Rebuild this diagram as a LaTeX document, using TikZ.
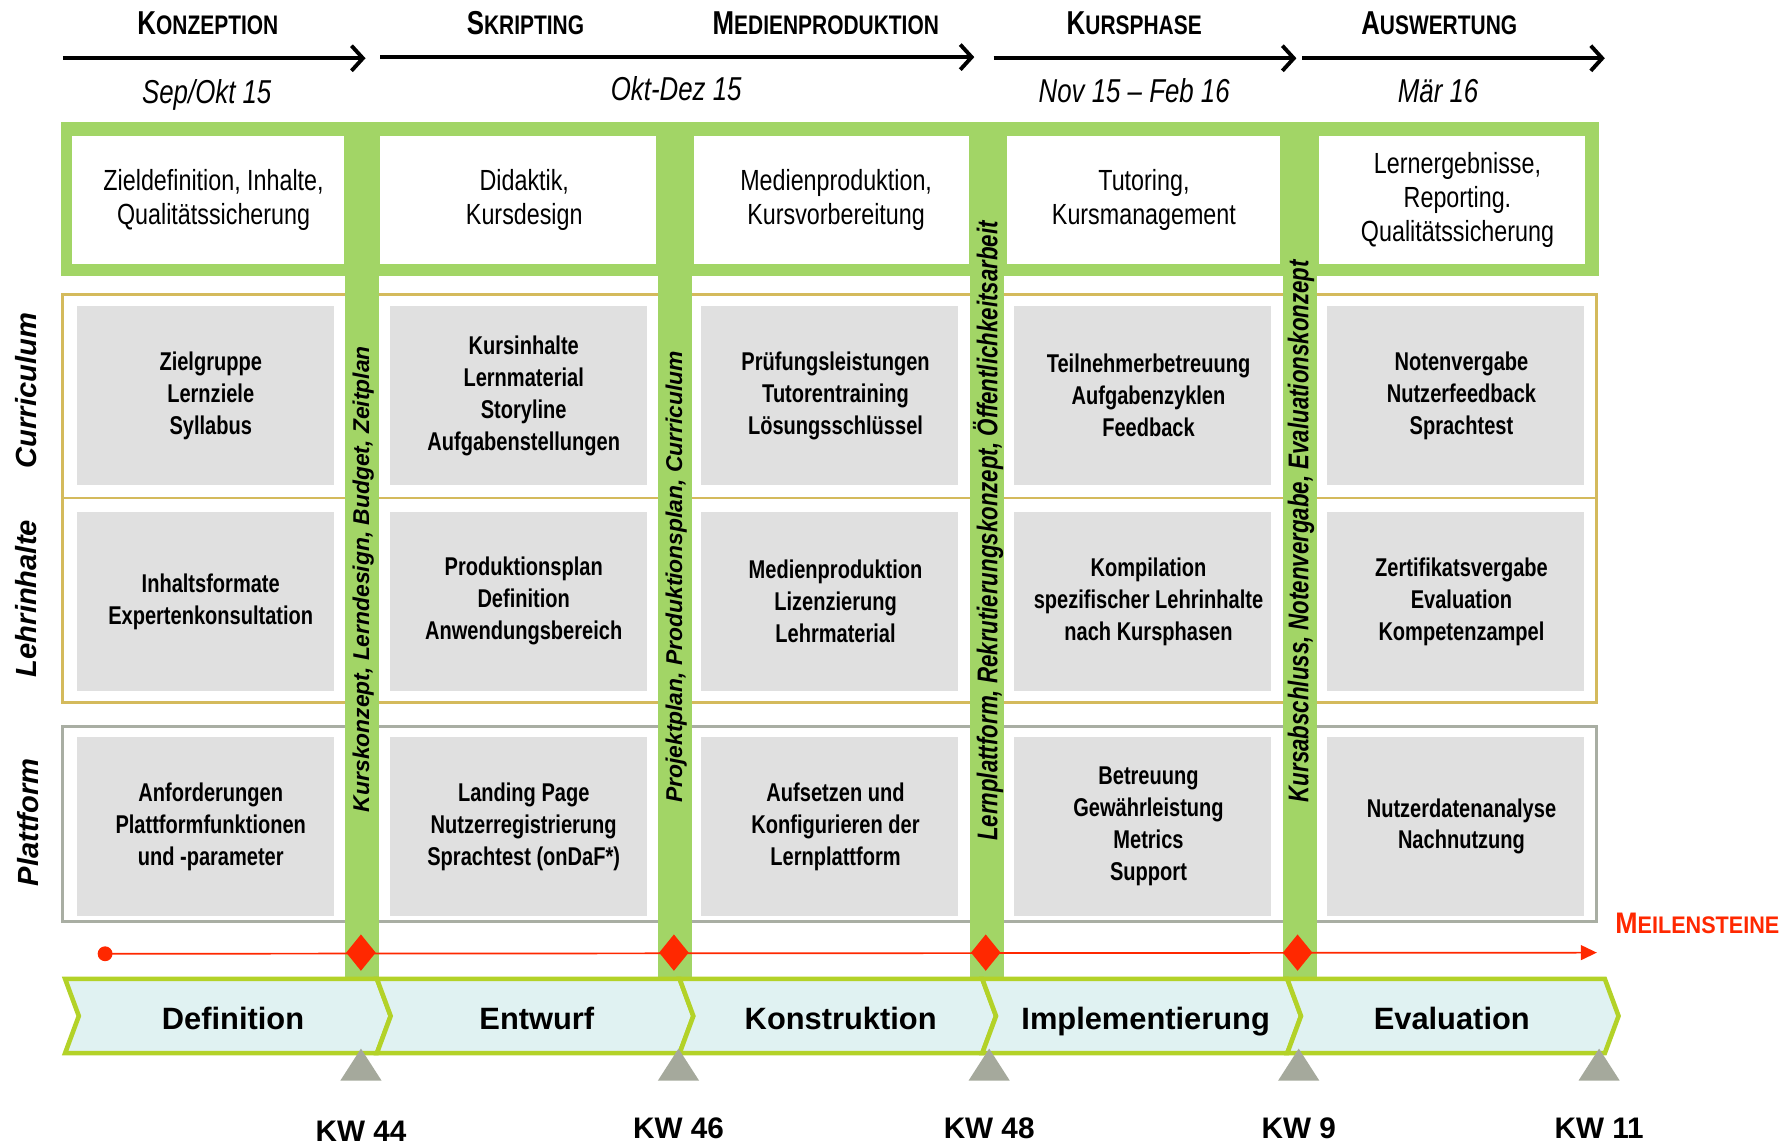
\documentclass[tikz,border=0pt]{standalone}
\usepackage{fontspec}
\setmainfont{Liberation Sans}
\newfontfamily\cond[FakeStretch=0.78]{Liberation Sans}
\newfontfamily\condtop[FakeStretch=0.8]{Liberation Sans}
\newfontfamily\condb[FakeStretch=0.9]{Liberation Sans}
\usetikzlibrary{arrows.meta,shapes.geometric}
\definecolor{bargreen}{RGB}{162,213,102}
\definecolor{goldline}{RGB}{212,186,92}
\definecolor{grayline}{RGB}{169,174,163}
\definecolor{boxgray}{RGB}{224,224,224}
\definecolor{chevfill}{RGB}{224,242,242}
\definecolor{chevline}{RGB}{179,210,40}
\definecolor{msred}{RGB}{255,40,0}
\definecolor{trigray}{RGB}{165,169,156}
\newcommand{\mysc}[2]{{\fontsize{29}{29}\selectfont #1}{\fontsize{23.5}{23.5}\selectfont #2}}
\newcommand{\myscred}[2]{{\fontsize{26}{26}\selectfont #1}{\fontsize{21}{21}\selectfont #2}}
\tikzset{
  cellbox/.style={fill=boxgray, minimum width=225pt, minimum height=157pt, inner sep=0pt},
  celltext/.style={inner sep=0pt, align=center, font=\cond\bfseries\fontsize{22.5}{28}\selectfont},
  topbox/.style={fill=white, inner sep=0pt, minimum height=112pt},
  toptext/.style={inner sep=0pt, align=center, font=\condtop\fontsize{25.5}{30}\selectfont},
  phasetitle/.style={anchor=base, font=\cond\bfseries},
  datelabel/.style={anchor=base, font=\cond\itshape\fontsize{29}{29}\selectfont},
  barlabel/.style={rotate=90, inner sep=0pt, font=\bfseries\itshape\fontsize{20}{20}\selectfont},
  barlabelc/.style={rotate=90, inner sep=0pt, font=\cond\bfseries\itshape\fontsize{25}{25}\selectfont},
  rowlabel/.style={rotate=90, inner sep=0pt, font=\bfseries\itshape\fontsize{25.5}{25.5}\selectfont},
  toparrow/.style={line width=3.4pt, -{Straight Barb[length=10pt,width=22pt,line width=3.4pt]}},
  chev/.style={fill=chevfill, draw=chevline, line width=4pt, line join=miter},
  chevlabel/.style={anchor=base, font=\bfseries\fontsize{27}{27}\selectfont},
  kwlabel/.style={anchor=base, font=\bfseries\fontsize{26}{26}\selectfont},
  milestone/.style={diamond, fill=msred, minimum width=26pt, minimum height=32pt, inner sep=0pt},
  greenbar/.style={fill=bargreen},
  tri/.style={fill=trigray}
}
\newcommand{\mycell}[4]{%
  \node[cellbox] (#1) at (#2,#3) {};
  \node[celltext] (#1t) at ([xshift=5pt]#1.center) {#4};}
\newcommand{\mytop}[5]{%
  \node[topbox, minimum width=#3pt] (#1) at (#2,175) {};
  \node[toptext] (#1t) at ([xshift=#4pt]#1.center) {#5};}
\begin{document}
\begin{tikzpicture}[x=1pt,y=-1pt]
\path[use as bounding box, fill=white] (0,0) rectangle (1568,1002);

% green top band
\fill[bargreen] (53,107) rectangle (1400,242);
\mytop{t1}{182}{238}{5}{Zieldefinition, Inhalte,\\Qualitätssicherung}
\mytop{t2}{453.5}{241}{5.5}{Didaktik,\\Kursdesign}
\mytop{t3}{728}{240}{4}{Medienproduktion,\\Kursvorbereitung}
\mytop{t4}{1001.5}{239}{0}{Tutoring,\\Kursmanagement}
\mytop{t5}{1271.5}{233}{4.5}{Lernergebnisse,\\Reporting.\\Qualitätssicherung}

% row frames
\draw[goldline, line width=2.5pt] (55,258) rectangle (1398,436);
\draw[goldline, line width=2.5pt] (55,436) rectangle (1398,615);
\draw[grayline, line width=2.5pt] (55,636) rectangle (1398,807);

% cells row 1
\mycell{c11}{179.5}{346.5}{Zielgruppe\\Lernziele\\Syllabus}
\mycell{c12}{453.5}{346.5}{Kursinhalte\\Lernmaterial\\Storyline\\Aufgabenstellungen}
\mycell{c13}{726.5}{346.5}{Prüfungsleistungen\\Tutorentraining\\Lösungsschlüssel}
\mycell{c14}{1000.5}{346.5}{Teilnehmerbetreuung\\Aufgabenzyklen\\Feedback}
\mycell{c15}{1274.5}{346.5}{Notenvergabe\\Nutzerfeedback\\Sprachtest}
% cells row 2
\mycell{c21}{179.5}{526.5}{Inhaltsformate\\Expertenkonsultation}
\mycell{c22}{453.5}{526.5}{Produktionsplan\\Definition\\Anwendungsbereich}
\mycell{c23}{726.5}{526.5}{Medienproduktion\\Lizenzierung\\Lehrmaterial}
\mycell{c24}{1000.5}{526.5}{Kompilation\\spezifischer Lehrinhalte\\nach Kursphasen}
\mycell{c25}{1274.5}{526.5}{Zertifikatsvergabe\\Evaluation\\Kompetenzampel}
% cells row 3
\mycell{c31}{179.5}{723.5}{Anforderungen\\Plattformfunktionen\\und -parameter}
\mycell{c32}{453.5}{723.5}{Landing Page\\Nutzerregistrierung\\Sprachtest (onDaF*)}
\mycell{c33}{726.5}{723.5}{Aufsetzen und\\Konfigurieren der\\Lernplattform}
\mycell{c34}{1000.5}{723.5}{Betreuung\\Gewährleistung\\Metrics\\Support}
\mycell{c35}{1274.5}{723.5}{Nutzerdatenanalyse\\Nachnutzung}

% vertical green bars
\fill[greenbar] (302,107) rectangle (332,855);
\fill[greenbar] (576,107) rectangle (606,855);
\fill[greenbar] (849,107) rectangle (879,855);
\fill[greenbar] (1123,107) rectangle (1153,855);
\node[barlabel] (b1) at (318,507) {Kurskonzept, Lerndesign, Budget, Zeitplan};
\node[barlabel] (b2) at (592,505) {Projektplan, Produktionsplan, Curriculum};
\node[barlabelc] (b3) at (865,465) {Lernplattform, Rekrutierungskonzept, Öffentlichkeitsarbeit};
\node[barlabelc] (b4) at (1139,465) {Kursabschluss, Notenvergabe, Evaluationskonzept};

% row labels
\node[rowlabel] (r1) at (23,342) {Curriculum};
\node[rowlabel] (r2) at (23,524) {Lehrinhalte};
\node[rowlabel] (r3) at (25,720) {Plattform};

% phase titles and arrows
\node[phasetitle] (h1) at (182,30) {\mysc{K}{ONZEPTION}};
\node[phasetitle] (h2) at (460,30) {\mysc{S}{KRIPTING}};
\node[phasetitle] (h3) at (723,30) {\mysc{M}{EDIENPRODUKTION}};
\node[phasetitle] (h4) at (993,30) {\mysc{K}{URSPHASE}};
\node[phasetitle] (h5) at (1260,30) {\mysc{A}{USWERTUNG}};
\coordinate (a1s) at (55,51);  \coordinate (a1e) at (320,51);
\coordinate (a2s) at (333,50); \coordinate (a2e) at (853,50);
\coordinate (a3s) at (870,51); \coordinate (a3e) at (1135,51);
\coordinate (a4s) at (1140,51);\coordinate (a4e) at (1405,51);
\draw[toparrow] (a1s) -- (a1e);
\draw[toparrow] (a2s) -- (a2e);
\draw[toparrow] (a3s) -- (a3e);
\draw[toparrow] (a4s) -- (a4e);
\node[datelabel] (d1) at (181,91) {Sep/Okt 15};
\node[datelabel] (d2) at (592,88) {Okt-Dez 15};
\node[datelabel] (d3) at (993,90) {Nov 15 – Feb 16};
\node[datelabel] (d4) at (1259,90) {Mär 16};

% milestones
\node[circle, fill=msred, minimum size=13pt, inner sep=0pt] (msdot) at (92,835) {};
\coordinate (msend) at (1398,834);
\draw[msred, line width=1.5pt, -{Triangle[length=14pt,width=13pt]}] (msdot.center) -- (msend);
\node[milestone] (m1) at (316,834) {};
\node[milestone] (m2) at (590,834) {};
\node[milestone] (m3) at (863,834) {};
\node[milestone] (m4) at (1136,834) {};
\node[anchor=base, text=msred, font=\condb\bfseries] (mst) at (1486,817) {\myscred{M}{EILENSTEINE}};

% chevrons
\draw[chev] (57,857) -- (330,857) -- (342,889.5) -- (330,922) -- (57,922) -- (69,889.5) -- cycle;
\draw[chev] (330,857) -- (595,857) -- (607,889.5) -- (595,922) -- (330,922) -- (342,889.5) -- cycle;
\draw[chev] (595,857) -- (860,857) -- (872,889.5) -- (860,922) -- (595,922) -- (607,889.5) -- cycle;
\draw[chev] (860,857) -- (1127,857) -- (1139,889.5) -- (1127,922) -- (860,922) -- (872,889.5) -- cycle;
\draw[chev] (1127,857) -- (1405,857) -- (1417,889.5) -- (1405,922) -- (1127,922) -- (1139,889.5) -- cycle;
\node[chevlabel] (p1) at (204,901) {Definition};
\node[chevlabel] (p2) at (470,901) {Entwurf};
\node[chevlabel] (p3) at (736,901) {Konstruktion};
\node[chevlabel] (p4) at (1003,901) {Implementierung};
\node[chevlabel] (p5) at (1271,901) {Evaluation};

% gray triangles and KW labels
\fill[tri] (316,918) -- (334,946) -- (298,946) -- cycle;
\fill[tri] (594,918) -- (612,946) -- (576,946) -- cycle;
\fill[tri] (866,918) -- (884,946) -- (848,946) -- cycle;
\fill[tri] (1137,918) -- (1155,946) -- (1119,946) -- cycle;
\fill[tri] (1400,918) -- (1418,946) -- (1382,946) -- cycle;
\node[kwlabel] (k1) at (316,999) {KW 44};
\node[kwlabel] (k2) at (594,997) {KW 46};
\node[kwlabel] (k3) at (866,997) {KW 48};
\node[kwlabel] (k4) at (1137,997) {KW 9};
\node[kwlabel] (k5) at (1400,997) {KW 11};
\end{tikzpicture}
\end{document}
